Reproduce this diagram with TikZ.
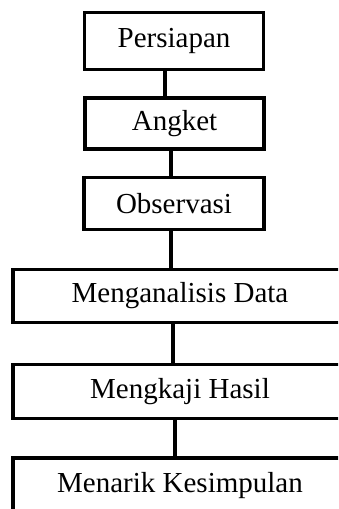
\documentclass[tikz,border=0pt]{standalone}
\usepackage{fontspec}
\setmainfont{Liberation Serif}
\begin{document}
\begin{tikzpicture}[x=1pt,y=-1pt,
  box/.style={draw=black, line width=3.5pt, fill=white, inner sep=0pt, font=\fontsize{29}{34}\selectfont},
  link/.style={draw=black, line width=3.5pt}]
\clip (0,0) rectangle (338,509);
\useasboundingbox (0,0) rectangle (338,509);
\node[box, minimum width=179pt, minimum height=57pt] (b1) at (174,41) {Persiapan};
\node[box, minimum width=179pt, minimum height=51pt] (b2) at (174.5,123.5) {Angket};
\node[box, minimum width=180pt, minimum height=52pt] (b3) at (174,203.5) {Observasi};
\node[box, minimum width=334pt, minimum height=53pt] (b4) at (180,296) {Menganalisis Data};
\node[box, minimum width=334pt, minimum height=54pt] (b5) at (180,391.5) {Mengkaji Hasil};
\node[box, minimum width=334pt, minimum height=56pt] (b6) at (180,486) {Menarik Kesimpulan};
\coordinate (x1) at (165,0);
\coordinate (x2) at (171,0);
\coordinate (x3) at (171,0);
\coordinate (x4) at (173,0);
\coordinate (x5) at (175,0);
\draw[link] (b1.south -| x1) -- (b2.north -| x1);
\draw[link] (b2.south -| x2) -- (b3.north -| x2);
\draw[link] (b3.south -| x3) -- (b4.north -| x3);
\draw[link] (b4.south -| x4) -- (b5.north -| x4);
\draw[link] (b5.south -| x5) -- (b6.north -| x5);
\end{tikzpicture}
\end{document}
